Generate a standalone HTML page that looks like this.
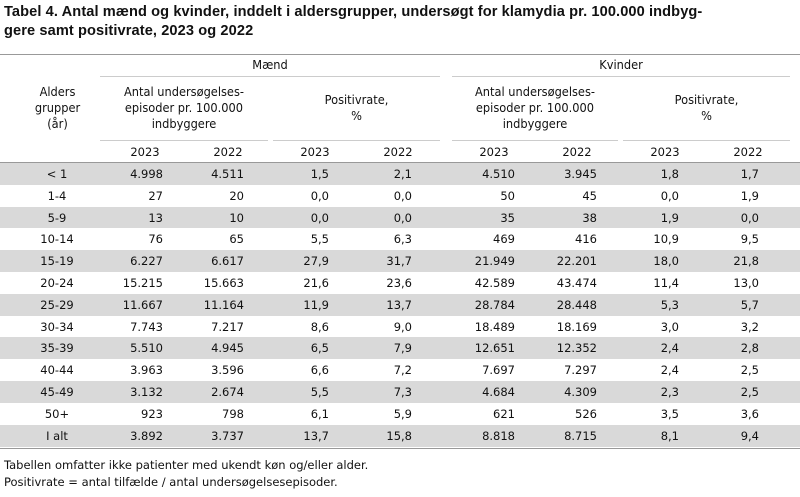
<!DOCTYPE html>
<html><head><meta charset="utf-8"><style>
body{margin:0;background:#fff;width:800px;height:497px;position:relative;overflow:hidden;font-family:"DejaVu Sans","Liberation Sans",sans-serif;color:#111}
.t{position:absolute;white-space:nowrap}
.title{position:absolute;left:4px;top:3px;font-weight:bold;font-size:14.6px;line-height:19px;font-family:"Liberation Sans",sans-serif;letter-spacing:0.1px;white-space:nowrap}
.h{position:absolute;font-size:12px;text-align:center;line-height:16px;font-family:"DejaVu Sans",sans-serif;transform:scaleX(0.95)}
.ln{position:absolute;height:1px}
.row{position:absolute;left:0;width:800px;height:22px;font-size:11.5px}
.c{position:absolute;top:4px;white-space:nowrap}
.foot{position:absolute;left:4px;font-size:11.5px}
</style></head><body>
<div class="title">Tabel 4. Antal mænd og kvinder, inddelt i aldersgrupper, undersøgt for klamydia pr. 100.000 indbyg-<br>gere samt positivrate, 2023 og 2022</div>
<div class="ln" style="left:0;top:54px;width:800px;background:#999"></div>
<div class="h" style="left:100px;top:57px;width:340px">Mænd</div>
<div class="h" style="left:452px;top:57px;width:338px">Kvinder</div>
<div class="ln" style="left:100px;top:76px;width:340px;background:#ccc"></div>
<div class="ln" style="left:452px;top:76px;width:338px;background:#ccc"></div>
<div class="h" style="left:10px;top:84px;width:95px">Alders<br>grupper<br>(år)</div>
<div class="h" style="left:95px;top:84px;width:178px">Antal undersøgelses-<br>episoder pr. 100.000<br>indbyggere</div>
<div class="h" style="left:273px;top:92px;width:167px">Positivrate,<br>%</div>
<div class="h" style="left:446px;top:84px;width:178px">Antal undersøgelses-<br>episoder pr. 100.000<br>indbyggere</div>
<div class="h" style="left:623px;top:92px;width:167px">Positivrate,<br>%</div>
<div class="ln" style="left:100px;top:140px;width:168px;background:#ccc"></div>
<div class="ln" style="left:273px;top:140px;width:167px;background:#ccc"></div>
<div class="ln" style="left:452px;top:140px;width:166px;background:#ccc"></div>
<div class="ln" style="left:623px;top:140px;width:167px;background:#ccc"></div>
<div id="years"></div>
<div class="ln" style="left:0;top:162px;width:800px;background:#999"></div>
<div id="body"></div>
<div class="foot" style="top:458px">Tabellen omfatter ikke patienter med ukendt køn og/eller alder.</div>
<div class="foot" style="top:475px">Positivrate = antal tilfælde / antal undersøgelsesepisoder.</div>
<script>
const ages=["< 1","1-4","5-9","10-14","15-19","20-24","25-29","30-34","35-39","40-44","45-49","50+","I alt"];
const mAntal23=["4.998","27","13","76","6.227","15.215","11.667","7.743","5.510","3.963","3.132","923","3.892"];
const mAntal22=["4.511","20","10","65","6.617","15.663","11.164","7.217","4.945","3.596","2.674","798","3.737"];
const mPos23=["1,5","0,0","0,0","5,5","27,9","21,6","11,9","8,6","6,5","6,6","5,5","6,1","13,7"];
const mPos22=["2,1","0,0","0,0","6,3","31,7","23,6","13,7","9,0","7,9","7,2","7,3","5,9","15,8"];
const kAntal23=["4.510","50","35","469","21.949","42.589","28.784","18.489","12.651","7.697","4.684","621","8.818"];
const kAntal22=["3.945","45","38","416","22.201","43.474","28.448","18.169","12.352","7.297","4.309","526","8.715"];
const kPos23=["1,8","0,0","1,9","10,9","18,0","11,4","5,3","3,0","2,4","2,4","2,3","3,5","8,1"];
const kPos22=["1,7","1,9","0,0","9,5","21,8","13,0","5,7","3,2","2,8","2,5","2,5","3,6","9,4"];
const cols=[[mAntal23,163],[mAntal22,244],[mPos23,329],[mPos22,412],[kAntal23,515],[kAntal22,597],[kPos23,679],[kPos22,759]];
const yrs=[145,228,315,398,494,577,665,748];
const Y=document.getElementById('years');
yrs.forEach((x,i)=>{const d=document.createElement('div');d.className='t';d.style.cssText=`left:${x-30}px;width:60px;text-align:center;top:145px;font-size:11.5px`;d.textContent=i%2?'2022':'2023';


Y.appendChild(d);});
const B=document.getElementById('body');
ages.forEach((a,i)=>{const r=document.createElement('div');r.className='row';r.style.top=(163+i*21.8)+'px';r.style.background=i%2?'#fff':'#d9d9d9';


let h=`<div class="c" style="left:7px;width:100px;text-align:center">${a.replace('<','&lt;')}</div>`;
cols.forEach(([arr,x])=>{h+=`<div class="c" style="right:${800-x}px">${arr[i]}</div>`;});
r.innerHTML=h;B.appendChild(r);});
const bl=document.createElement('div');bl.className='ln';bl.style.cssText='left:0;top:448px;width:800px;background:#999';


B.appendChild(bl);
</script>
</body></html>
